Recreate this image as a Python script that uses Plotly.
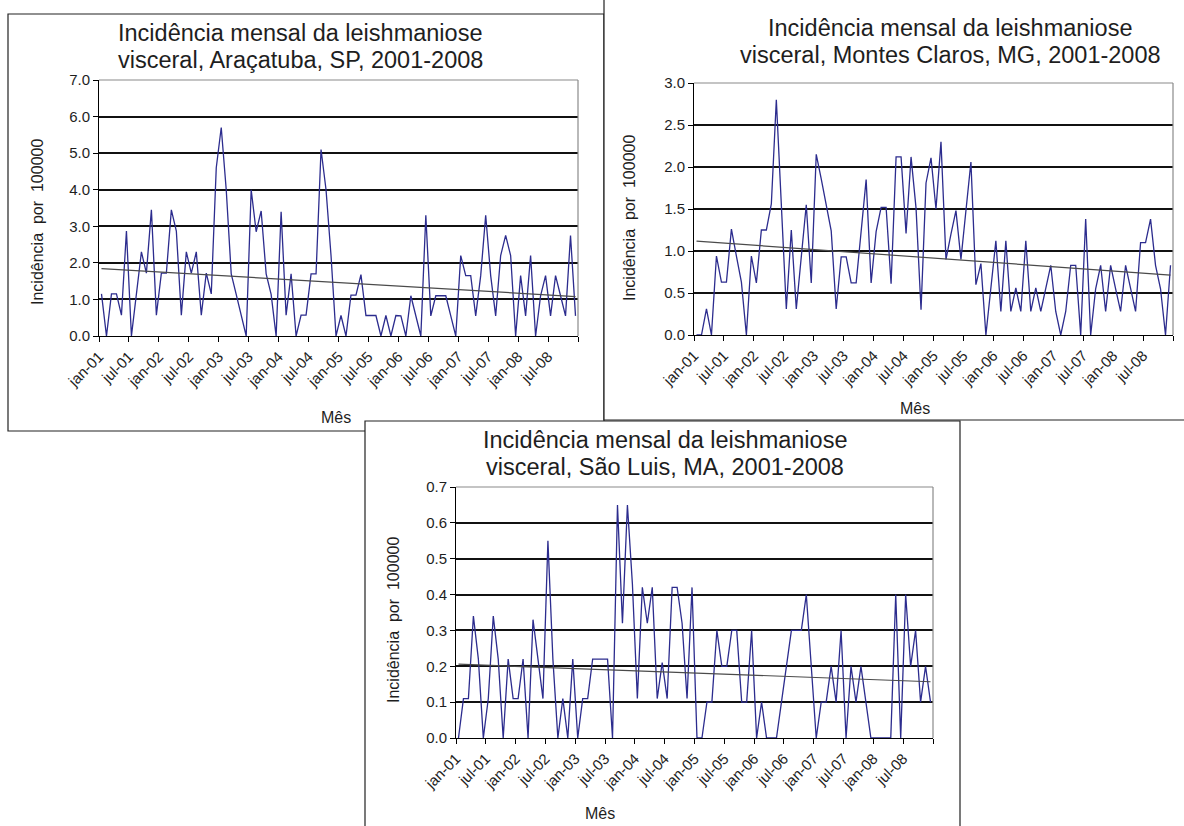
import numpy as np
import plotly.graph_objects as go

# Monthly categories, jan-2001 .. dez-2008
meses = [f"{m}-{a:02d}" for a in range(1, 9)
         for m in ["jan", "fev", "mar", "abr", "mai", "jun",
                   "jul", "ago", "set", "out", "nov", "dez"]]

rotulos = ["jan-01", "jul-01", "jan-02", "jul-02", "jan-03", "jul-03",
           "jan-04", "jul-04", "jan-05", "jul-05", "jan-06", "jul-06",
           "jan-07", "jul-07", "jan-08", "jul-08"]

# Incidence per 100000 inhabitants
aracatuba = [
    1.15, 0, 1.15, 1.15, 0.57, 2.87, 0, 1.15, 2.3, 1.72, 3.45, 0.57,
    1.72, 1.72, 3.45, 2.87, 0.57, 2.3, 1.72, 2.3, 0.57, 1.72, 1.15, 4.6,
    5.7, 4.0, 1.7, 1.14, 0.57, 0, 4.0, 2.85, 3.42, 1.7, 1.14, 0,
    3.4, 0.57, 1.7, 0, 0.57, 0.57, 1.7, 1.7, 5.1, 4.0, 2.2, 0,
    0.56, 0, 1.12, 1.12, 1.68, 0.56, 0.56, 0.56, 0, 0.56, 0, 0.56,
    0.55, 0, 1.1, 0.55, 0, 3.3, 0.55, 1.1, 1.1, 1.1, 0.55, 0,
    2.2, 1.65, 1.65, 0.55, 1.65, 3.3, 1.65, 0.55, 2.2, 2.75, 2.2, 0,
    1.65, 0.55, 2.2, 0, 1.1, 1.65, 0.55, 1.65, 1.1, 0.55, 2.75, 0.55,
]

montes_claros = [
    0, 0, 0.31, 0, 0.94, 0.63, 0.63, 1.26, 0.94, 0.63, 0, 0.94,
    0.62, 1.25, 1.25, 1.56, 2.8, 1.56, 0.31, 1.25, 0.31, 0.93, 1.55, 0.62,
    2.15, 1.86, 1.55, 1.24, 0.31, 0.93, 0.93, 0.62, 0.62, 1.24, 1.85, 0.62,
    1.23, 1.52, 1.52, 0.61, 2.12, 2.12, 1.21, 2.12, 1.51, 0.3, 1.81, 2.11,
    1.5, 2.3, 0.9, 1.2, 1.48, 0.9, 1.48, 2.06, 0.6, 0.85, 0, 0.56,
    1.12, 0.28, 1.12, 0.28, 0.56, 0.28, 1.12, 0.28, 0.56, 0.28, 0.56, 0.83,
    0.28, 0, 0.28, 0.83, 0.83, 0, 1.38, 0, 0.55, 0.83, 0.28, 0.83,
    0.55, 0.28, 0.83, 0.55, 0.28, 1.1, 1.1, 1.38, 0.83, 0.55, 0, 0.83,
]

sao_luis = [
    0, 0.11, 0.11, 0.34, 0.22, 0, 0.11, 0.34, 0.22, 0, 0.22, 0.11,
    0.11, 0.22, 0, 0.33, 0.22, 0.11, 0.55, 0.22, 0, 0.11, 0, 0.22,
    0, 0.11, 0.11, 0.22, 0.22, 0.22, 0.22, 0, 0.65, 0.32, 0.65, 0.43,
    0.11, 0.42, 0.32, 0.42, 0.11, 0.21, 0.11, 0.42, 0.42, 0.32, 0.11, 0.42,
    0, 0, 0.1, 0.1, 0.3, 0.2, 0.2, 0.3, 0.3, 0.1, 0.1, 0.3,
    0, 0.1, 0, 0, 0, 0.1, 0.2, 0.3, 0.3, 0.3, 0.4, 0.2,
    0, 0.1, 0.1, 0.2, 0.1, 0.3, 0, 0.2, 0.1, 0.2, 0.1, 0,
    0, 0, 0, 0, 0.4, 0, 0.4, 0.2, 0.3, 0.1, 0.2, 0.1,
]

W, H = 1184, 826
FONT = "Liberation Sans, Arial, sans-serif"
SERIE = "#2c2c8e"
TEXTO = "#1e1e1e"


def px(x):
    return x / W


def py(y):
    return 1 - y / H


paineis = [
    dict(dados=aracatuba, local="Araçatuba, SP", ymax=7.0, dtick=1.0,
         xdom=(99, 578), ydom=(80, 336),
         titulo=(300, 33, 60), ytit=(38, 222), mes=(336, 418)),
    dict(dados=montes_claros, local="Montes Claros, MG", ymax=3.0, dtick=0.5,
         xdom=(694, 1173), ydom=(83, 335),
         titulo=(950, 28, 55), ytit=(630, 218), mes=(915, 408)),
    dict(dados=sao_luis, local="São Luis, MA", ymax=0.7, dtick=0.1,
         xdom=(456, 933), ydom=(487, 738),
         titulo=(665, 440, 467), ytit=(393, 620), mes=(600, 813)),
]

fig = go.Figure()
layout = dict(
    width=W, height=H,
    margin=dict(l=0, r=0, t=0, b=0, pad=0, autoexpand=False),
    paper_bgcolor="white", plot_bgcolor="#efefef",
    showlegend=False, font=dict(family=FONT, color=TEXTO),
)
anotacoes = []

# chart-area frames (white boxes with black outline)
formas = [
    dict(type="rect", xref="paper", yref="paper", layer="below",
         x0=px(8), x1=px(604), y0=py(431), y1=py(14),
         line=dict(color="#222", width=1.2), fillcolor="white"),
    dict(type="rect", xref="paper", yref="paper", layer="below",
         x0=px(604), x1=px(1200), y0=py(420), y1=py(-10),
         line=dict(color="#222", width=1.2), fillcolor="white"),
    dict(type="rect", xref="paper", yref="paper", layer="below",
         x0=px(365), x1=px(960), y0=py(850), y1=py(421),
         line=dict(color="#222", width=1.2), fillcolor="white"),
]

limites = [-0.5 + 6 * k for k in range(17)]
idx = np.arange(len(meses))

for n, p in enumerate(paineis, start=1):
    sx = "" if n == 1 else str(n)
    vals = np.array(p["dados"], dtype=float)

    fig.add_trace(go.Scatter(
        x=idx, y=vals, mode="lines", text=meses,
        line=dict(color=SERIE, width=1.3),
        xaxis="x" + sx, yaxis="y" + sx, hoverinfo="text+y"))

    # linear trend of the monthly series
    a, b = np.polyfit(idx, vals, 1)
    xt = np.array([idx[0], idx[-1]])
    fig.add_trace(go.Scatter(
        x=xt, y=a * xt + b, mode="lines",
        line=dict(color="#4a4a4a", width=1.2),
        xaxis="x" + sx, yaxis="y" + sx, hoverinfo="skip"))

    layout["xaxis" + sx] = dict(
        domain=[px(p["xdom"][0]), px(p["xdom"][1])],
        anchor="y" + sx, range=[-0.5, len(meses) - 0.5], automargin=False,
        tickmode="array", tickvals=limites, ticktext=rotulos + [""],
        tickangle=-45, ticks="outside", ticklen=5, tickcolor="black",
        showline=True, linecolor="black", linewidth=1,
        showgrid=False, zeroline=False,
        tickfont=dict(size=15, family=FONT, color=TEXTO),
    )
    nt = int(round(p["ymax"] / p["dtick"]))
    ytv = [round(k * p["dtick"], 2) for k in range(nt + 1)]
    layout["yaxis" + sx] = dict(
        domain=[py(p["ydom"][1]), py(p["ydom"][0])],
        anchor="x" + sx, range=[0, p["ymax"]], automargin=False,
        tickmode="array", tickvals=ytv, ticktext=[f"{v:.1f}" for v in ytv],
        ticks="outside", ticklen=5, tickcolor="black",
        showline=True, linecolor="black", linewidth=1,
        showgrid=True, gridcolor="#111", gridwidth=1.5, zeroline=False,
        tickfont=dict(size=15, family=FONT, color=TEXTO),
    )

    # grey plot-area border on top and right
    for (x0, y0, x1, y1) in [(0, 1, 1, 1), (1, 0, 1, 1)]:
        formas.append(dict(
            type="line", xref=f"x{sx} domain", yref=f"y{sx} domain",
            x0=x0, y0=y0, x1=x1, y1=y1, layer="above",
            line=dict(color="#8a8a8a", width=1.2)))

    tx, ty1, ty2 = p["titulo"]
    linhas = ["Incidência mensal da leishmaniose",
              f"visceral, {p['local']}, 2001-2008"]
    for txt, ty in zip(linhas, (ty1, ty2)):
        anotacoes.append(dict(
            text=txt, x=px(tx), y=py(ty), xref="paper", yref="paper",
            xanchor="center", yanchor="middle", showarrow=False,
            font=dict(size=23.5, family=FONT, color=TEXTO)))
    anotacoes.append(dict(
        text="Incidência  por  100000", textangle=-90,
        x=px(p["ytit"][0]), y=py(p["ytit"][1]), xref="paper", yref="paper",
        xanchor="center", yanchor="middle", showarrow=False,
        font=dict(size=16, family=FONT, color=TEXTO)))
    anotacoes.append(dict(
        text="Mês",
        x=px(p["mes"][0]), y=py(p["mes"][1]), xref="paper", yref="paper",
        xanchor="center", yanchor="middle", showarrow=False,
        font=dict(size=16, family=FONT, color=TEXTO)))

layout["shapes"] = formas
layout["annotations"] = anotacoes
fig.update_layout(**layout)
fig.write_html("out.html")
